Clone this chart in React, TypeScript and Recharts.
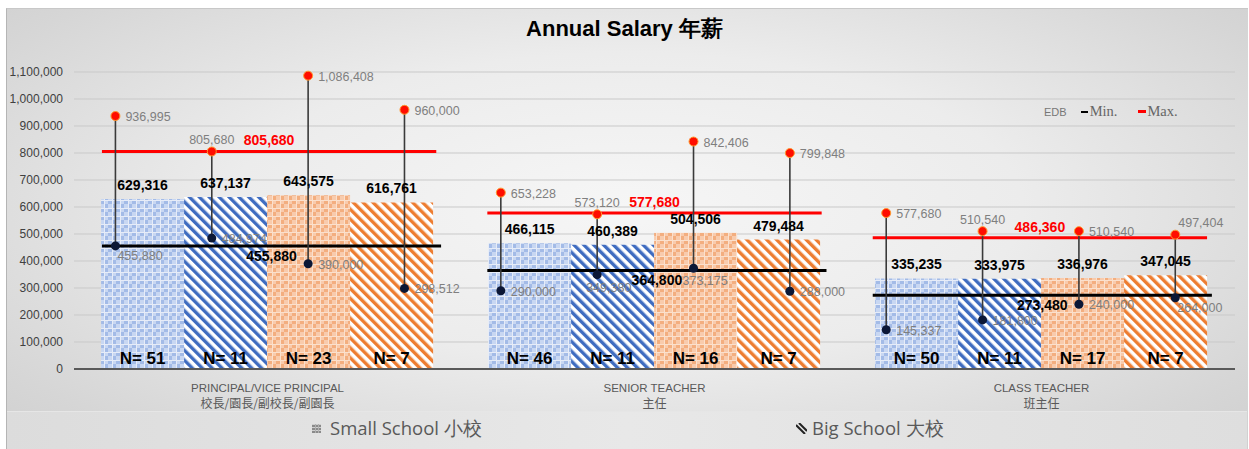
import {
  ComposedChart,
  Bar,
  XAxis,
  YAxis,
  CartesianGrid,
  Scatter,
  ReferenceLine,
  LabelList,
} from "recharts";

// categories
const categories = ["PRINCIPAL/VICE  PRINCIPAL", "SENIOR TEACHER", "CLASS TEACHER"];
const categoriesZh = ["校長/園長/副校長/副園長", "主任", "班主任"];

// average salary per bar
const smallBlue = [629316, 466115, 335235];
const bigBlue = [637137, 460389, 333975];
const smallOrange = [643575, 504506, 336976];
const bigOrange = [616761, 479484, 347045];

// sample sizes
const nSmallBlue = [51, 46, 50];
const nBigBlue = [11, 11, 11];
const nSmallOrange = [23, 16, 17];
const nBigOrange = [7, 7, 7];

// EDB min / max per category
const edbMin = [455880, 364800, 273480];
const edbMax = [805680, 577680, 486360];

// observed range per bar (12 bars, left to right)
const rangeMax = [936995, 805680, 1086408, 960000, 653228, 573120, 842406, 799848, 577680, 510540, 510540, 497404];
const rangeMin = [455880, 484974, 390000, 298512, 290000, 349380, 373175, 288000, 145337, 181800, 240000, 264000];

const yTicks = [0, 100000, 200000, 300000, 400000, 500000, 600000, 700000, 800000, 900000, 1000000, 1100000];

// label placement (layout only)
const maxLabelPlace = ["right", "above", "right", "right", "right", "above", "right", "right", "right", "above", "right", "aboveRight"];
const minLabelPlace = ["below", "right", "right", "right", "right", "belowLeft", "belowLeft", "right", "right", "right", "right", "below"];

const NARROW = "'Liberation Sans Narrow', 'Arial Narrow', 'Liberation Sans', Arial, sans-serif";
const fmt = (v: number) => v.toLocaleString("en-US");

const data = categories.map((c, i) => ({
  cat: c,
  zh: categoriesZh[i],
  sb: smallBlue[i],
  bb: bigBlue[i],
  so: smallOrange[i],
  bo: bigOrange[i],
  nsb: nSmallBlue[i],
  nbb: nBigBlue[i],
  nso: nSmallOrange[i],
  nbo: nBigOrange[i],
}));

const points = rangeMax.map((v, i) => ({ x: i, max: v, min: rangeMin[i] }));

const CatTick = (props: any) => {
  const { x, y, payload } = props;
  const idx = categories.indexOf(payload.value);
  return (
    <g transform={`translate(${x},${y})`}>
      <text x={0} y={15} textAnchor="middle" fontSize={11.5} fill="#595959" fontFamily={NARROW}>
        {payload.value}
      </text>
      <text x={0} y={31} textAnchor="middle" fontSize={12} fill="#595959" fontFamily="'Noto Sans CJK TC', sans-serif">
        {categoriesZh[idx]}
      </text>
    </g>
  );
};

const MaxDot = (props: any) => {
  const { cx, cy, payload } = props;
  const place = maxLabelPlace[payload.x];
  let tx = cx + 10;
  let ty = cy + 5;
  let anchor: any = "start";
  if (place === "above") {
    tx = cx;
    ty = cy - 7;
    anchor = "middle";
  } else if (place === "aboveRight") {
    tx = cx + 3;
    ty = cy - 8;
  }
  return (
    <g>
      <circle cx={cx} cy={cy} r={4.5} fill="#ff0d00" stroke="#ff9a2e" strokeWidth={1} />
      <text x={tx} y={ty} textAnchor={anchor} fontSize={12.5} fill="#7f7f7f" fontFamily={NARROW}>
        {fmt(payload.max)}
      </text>
    </g>
  );
};

const MinDot = (props: any) => {
  const { cx, cy, payload } = props;
  const place = minLabelPlace[payload.x];
  let tx = cx + 10;
  let ty = cy + 5;
  if (place === "below") {
    tx = cx + 2;
    ty = cy + 14;
  } else if (place === "belowLeft") {
    tx = cx - 11;
    ty = cy + 17;
  }
  return (
    <g>
      <circle cx={cx} cy={cy} r={4.5} fill="#0b1736" />
      <text x={tx} y={ty} textAnchor="start" fontSize={12.5} fill="#7f7f7f" fontFamily={NARROW}>
        {fmt(payload.min)}
      </text>
    </g>
  );
};

const valueLabel = { position: "top" as const, offset: 9, fontSize: 14, fontWeight: 700, fill: "#000", fontFamily: NARROW, formatter: (v: any) => fmt(v) };
const nLabel = { position: "insideBottom" as const, offset: 5, fontSize: 17, fontWeight: 700, fill: "#000", fontFamily: NARROW, formatter: (v: any) => `N= ${v}` };

const App = () => {
  return (
    <div style={{ position: "absolute", left: 0, top: 0, width: 1249, height: 449, background: "#fff", overflow: "hidden" }}>
      <div
        style={{
          position: "absolute",
          left: 6,
          top: 8,
          width: 1241,
          height: 440,
          borderLeft: "1px solid #b5b5b5",
          borderTop: "1px solid #c8c8c8",
          background: "radial-gradient(ellipse at 50% 45%, #f6f6f6 0%, #ececec 45%, #d6d6d6 85%, #cfcfcf 100%)",
        }}
      />
      <div
        style={{
          position: "absolute",
          left: 7,
          top: 411,
          width: 1240,
          height: 37,
          background: "linear-gradient(90deg, #dcdcdc 0%, #e8e8e8 50%, #dedede 100%)",
          borderTop: "1px solid #e6e6e6",
        }}
      />
      <div
        style={{
          position: "absolute",
          left: 0,
          top: 14,
          width: 1249,
          textAlign: "center",
          fontFamily: NARROW,
          fontWeight: 700,
          fontSize: 22,
          color: "#000",
        }}
      >
        Annual Salary 年薪
      </div>

      <div style={{ position: "absolute", left: 0, top: 0 }}>
        <ComposedChart
          width={1249}
          height={449}
          data={data}
          margin={{ top: 72, right: 14, left: 0, bottom: 40 }}
          barCategoryGap="7%"
          barGap={0}
        >
          <defs>
            <pattern id="chkBlue" width={8} height={8} patternUnits="userSpaceOnUse">
              <rect width={8} height={8} fill="#a3bbe7" />
              <rect x={0} y={0} width={4} height={4} fill="#c8d7f2" />
              <rect x={4} y={4} width={4} height={4} fill="#c8d7f2" />
              <rect x={0} y={0} width={8} height={1} fill="#e6ecf8" />
              <rect x={0} y={0} width={1} height={8} fill="#e6ecf8" />
            </pattern>
            <pattern id="chkOrange" width={8} height={8} patternUnits="userSpaceOnUse">
              <rect width={8} height={8} fill="#f3ae7f" />
              <rect x={0} y={0} width={4} height={4} fill="#f8cbad" />
              <rect x={4} y={4} width={4} height={4} fill="#f8cbad" />
              <rect x={0} y={0} width={8} height={1} fill="#fbe0cc" />
              <rect x={0} y={0} width={1} height={8} fill="#fbe0cc" />
            </pattern>
            <pattern id="strBlue" width={7} height={7} patternUnits="userSpaceOnUse" patternTransform="rotate(-45)">
              <rect width={7} height={7} fill="#ffffff" />
              <rect x={0} y={0} width={3.4} height={7} fill="#3f6cc0" />
            </pattern>
            <pattern id="strOrange" width={7} height={7} patternUnits="userSpaceOnUse" patternTransform="rotate(-45)">
              <rect width={7} height={7} fill="#ffffff" />
              <rect x={0} y={0} width={3.4} height={7} fill="#ed7d31" />
            </pattern>
          </defs>

          <CartesianGrid vertical={false} stroke="#c9c9c9" />
          <XAxis
            xAxisId="cat"
            dataKey="cat"
            height={40}
            axisLine={{ stroke: "#595959", strokeWidth: 2 }}
            tickLine={false}
            tick={<CatTick />}
            interval={0}
          />
          <XAxis xAxisId="pt" type="number" dataKey="x" domain={[-0.43, 11.62]} allowDataOverflow hide />
          <YAxis
            domain={[0, 1100000]}
            ticks={yTicks}
            width={74}
            axisLine={false}
            tickLine={false}
            tickSize={6}
            tickMargin={5}
            tickFormatter={(v: number) => fmt(v)}
            tick={{ fontSize: 12, fill: "#404040", fontFamily: NARROW }}
          />

          <Bar xAxisId="cat" dataKey="sb" fill="url(#chkBlue)" isAnimationActive={false}>
            <LabelList dataKey="sb" {...valueLabel} />
            <LabelList dataKey="nsb" {...nLabel} />
          </Bar>
          <Bar xAxisId="cat" dataKey="bb" fill="url(#strBlue)" isAnimationActive={false}>
            <LabelList dataKey="bb" {...valueLabel} />
            <LabelList dataKey="nbb" {...nLabel} />
          </Bar>
          <Bar xAxisId="cat" dataKey="so" fill="url(#chkOrange)" isAnimationActive={false}>
            <LabelList dataKey="so" {...valueLabel} />
            <LabelList dataKey="nso" {...nLabel} />
          </Bar>
          <Bar xAxisId="cat" dataKey="bo" fill="url(#strOrange)" isAnimationActive={false}>
            <LabelList dataKey="bo" {...valueLabel} />
            <LabelList dataKey="nbo" {...nLabel} />
          </Bar>

          {edbMax.map((v, g) => (
            <ReferenceLine
              key={`max${g}`}
              xAxisId="pt"
              segment={[{ x: g * 4 - 0.14, y: v }, { x: g * 4 + 3.33, y: v }]}
              stroke="#ff0000"
              strokeWidth={3}
              label={{ value: fmt(v), position: "top", offset: 6, fill: "#ff0000", fontSize: 14, fontWeight: 700, fontFamily: NARROW }}
            />
          ))}
          {edbMin.map((v, g) => (
            <ReferenceLine
              key={`min${g}`}
              xAxisId="pt"
              segment={[{ x: g * 4 - 0.14, y: v }, { x: g * 4 + 3.38, y: v }]}
              stroke="#000000"
              strokeWidth={3}
              label={{ value: fmt(v), position: "bottom", offset: 5, fill: "#000", fontSize: 14, fontWeight: 700, fontFamily: NARROW }}
            />
          ))}

          {points.map((p) => (
            <ReferenceLine
              key={`stem${p.x}`}
              xAxisId="pt"
              segment={[{ x: p.x, y: p.min }, { x: p.x, y: p.max }]}
              stroke="#3a3a3a"
              strokeWidth={1.6}
            />
          ))}

          <Scatter xAxisId="pt" data={points} dataKey="max" shape={<MaxDot />} isAnimationActive={false} />
          <Scatter xAxisId="pt" data={points} dataKey="min" shape={<MinDot />} isAnimationActive={false} />
        </ComposedChart>
      </div>

      {/* EDB legend, top right */}
      <div
        style={{
          position: "absolute",
          left: 1044,
          top: 103,
          display: "flex",
          alignItems: "center",
          whiteSpace: "nowrap",
        }}
      >
        <span style={{ fontFamily: "'Liberation Sans', sans-serif", fontSize: 11, color: "#777" }}>EDB</span>
        <span style={{ display: "inline-block", width: 7, height: 2, background: "#000", marginLeft: 14, marginRight: 2 }} />
        <span style={{ fontFamily: "'Liberation Serif', serif", fontSize: 14.5, color: "#666" }}>Min.</span>
        <span style={{ display: "inline-block", width: 8, height: 3, background: "#ff0000", marginLeft: 21, marginRight: 1 }} />
        <span style={{ fontFamily: "'Liberation Serif', serif", fontSize: 14.5, color: "#666" }}>Max.</span>
      </div>

      {/* bottom legend */}
      <div
        style={{
          position: "absolute",
          left: 312,
          top: 415,
          display: "flex",
          alignItems: "center",
          fontFamily: "'Open Sans', 'Noto Sans', sans-serif",
          fontSize: 18.5,
          color: "#595959",
          whiteSpace: "nowrap",
        }}
      >
        <svg width={9} height={9} style={{ marginRight: 9 }}>
          <rect width={9} height={9} fill="#8a8a8a" />
          <rect x={0} y={0} width={9} height={1} fill="#cfcfcf" />
          <rect x={0} y={3} width={9} height={1} fill="#cfcfcf" />
          <rect x={0} y={6} width={9} height={1} fill="#cfcfcf" />
          <rect x={3} y={0} width={1} height={9} fill="#b0b0b0" />
          <rect x={6} y={0} width={1} height={9} fill="#b0b0b0" />
        </svg>
        <span>Small School 小校</span>
      </div>
      <div
        style={{
          position: "absolute",
          left: 796,
          top: 415,
          display: "flex",
          alignItems: "center",
          fontFamily: "'Open Sans', 'Noto Sans', sans-serif",
          fontSize: 18.5,
          color: "#595959",
          whiteSpace: "nowrap",
        }}
      >
        <svg width={11} height={11} style={{ marginRight: 5 }}>
          <line x1={0} y1={2} x2={9} y2={11} stroke="#222" strokeWidth={2} />
          <line x1={3} y1={0} x2={11} y2={8} stroke="#222" strokeWidth={2} />
        </svg>
        <span>Big School 大校</span>
      </div>
    </div>
  );
};

export default App;
